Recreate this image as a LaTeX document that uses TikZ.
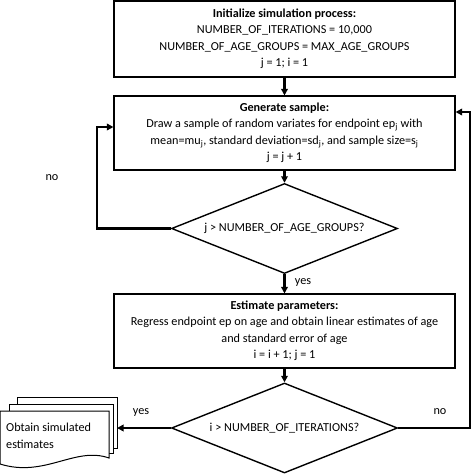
\documentclass[tikz,border=0pt]{standalone}
\usepackage{fontspec}
\setmainfont{Carlito}
\usetikzlibrary{shapes.geometric,arrows.meta}
\begin{document}
\begin{tikzpicture}[x=1pt,y=-1pt,
  font=\fontsize{12.2}{16.5}\selectfont,
  box/.style={draw=black,line width=1.1pt,fill=white,align=center,inner sep=0pt,minimum width=341pt},
  dec/.style={draw=black,line width=1.4pt,shape=diamond,aspect=2.4,inner sep=0pt,minimum width=226pt,minimum height=90pt},
  conn/.style={line width=2.2pt,-{Triangle[length=6.5pt,width=6.5pt]}},
  lbl/.style={inner sep=0pt},
  page/.style={draw=black,line width=1pt,fill=white}]
\useasboundingbox (0,0) rectangle (473,475);
\node[box,minimum height=76pt] (init) at (284.5,39) {\textbf{Initialize simulation process:}\\NUMBER\_OF\_ITERATIONS = 10,000\\NUMBER\_OF\_AGE\_GROUPS = MAX\_AGE\_GROUPS\\j = 1; i = 1};
\node[box,minimum height=74pt] (gen) at (284.5,133) {\textbf{Generate sample:}\\Draw a sample of random variates for endpoint ep\textsubscript{j} with\\mean=mu\textsubscript{j}, standard deviation=sd\textsubscript{j}, and sample size=s\textsubscript{j}\\j = j + 1};
\node[dec] (d1) at (284.5,228.5) {j > NUMBER\_OF\_AGE\_GROUPS?};
\node[box,minimum height=74pt] (est) at (284.5,331) {\textbf{Estimate parameters:}\\Regress endpoint ep on age and obtain linear estimates of age\\and standard error of age\\i = i + 1; j = 1};
\node[dec] (d2) at (284.5,428) {i > NUMBER\_OF\_ITERATIONS?};
% document stack
\draw[page] (17,397) rectangle (117,448);
\draw[page] (9,404) rectangle (113,453);
\draw[page] (0,411) -- (109,411) -- (109,458) .. controls (75,446) and (45,478) .. (0,464) -- cycle;
\node[lbl,align=left,anchor=west] (doc) at (6,436) {Obtain simulated\\estimates};
\coordinate (docin) at (117,428);
% connectors
\draw[conn] (init) -- (gen);
\draw[conn] (gen) -- (d1);
\draw[conn] (d1) -- (est);
\draw[conn] (est) -- (d2);
\coordinate (lc) at (97,127);
\draw[conn] (d1.west) -| (lc) -- (gen.west |- lc);
\coordinate (rc) at (470,112);
\draw[conn] (d2.east) -| (rc) -- (gen.east |- rc);
\draw[conn] (d2.west) -- (docin);
% labels
\node[lbl] (l1) at (303,283) {yes};
\node[lbl] (l2) at (52,178) {no};
\node[lbl] (l3) at (141,413) {yes};
\node[lbl] (l4) at (440,412) {no};
\end{tikzpicture}
\end{document}
